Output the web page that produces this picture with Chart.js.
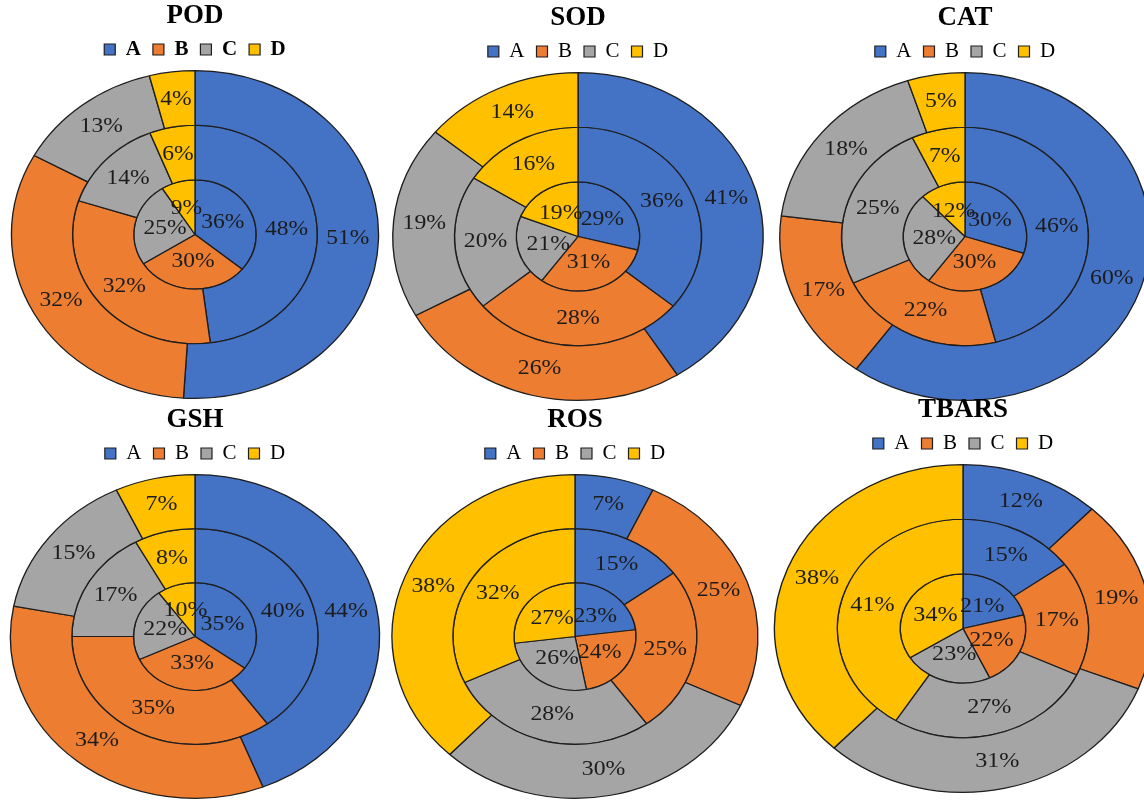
<!DOCTYPE html>
<html>
<head>
<meta charset="utf-8">
<script src="https://cdn.jsdelivr.net/npm/chart.js@4.4.0/dist/chart.umd.min.js"></script>
<style>
  body { margin: 0; background: #fff; overflow: hidden; width: 1144px; height: 800px; position: relative; }
  .cell { position: absolute; }
  canvas { display: block; }
</style>
</head>
<body>
<div class="cell" style="left:0px;top:0px"><canvas id="c0" width="390" height="400"></canvas></div>
<div class="cell" style="left:383px;top:2px"><canvas id="c1" width="390" height="400"></canvas></div>
<div class="cell" style="left:770px;top:2px"><canvas id="c2" width="390" height="400"></canvas></div>
<div class="cell" style="left:0px;top:404px"><canvas id="c3" width="390" height="396"></canvas></div>
<div class="cell" style="left:380px;top:404px"><canvas id="c4" width="390" height="396"></canvas></div>
<div class="cell" style="left:768px;top:394px"><canvas id="c5" width="390" height="400"></canvas></div>
<script>
// groups shown in every legend
const groups = ['A', 'B', 'C', 'D'];
const titles = ['POD', 'SOD', 'CAT', 'GSH', 'ROS', 'TBARS'];

// percentages per ring (A, B, C, D)
const podInner = [36, 30, 25, 9];
const podMiddle = [48, 32, 14, 6];
const podOuter = [51, 32, 13, 4];

const sodInner = [29, 31, 21, 19];
const sodMiddle = [36, 28, 20, 16];
const sodOuter = [41, 26, 19, 14];

const catInner = [30, 30, 28, 12];
const catMiddle = [46, 22, 25, 7];
const catOuter = [60, 17, 18, 5];

const gshInner = [35, 33, 22, 10];
const gshMiddle = [40, 35, 17, 8];
const gshOuter = [44, 34, 15, 7];

const rosInner = [23, 24, 26, 27];
const rosMiddle = [15, 25, 28, 32];
const rosOuter = [7, 25, 30, 38];

const tbarsInner = [21, 22, 23, 34];
const tbarsMiddle = [15, 17, 27, 41];
const tbarsOuter = [12, 19, 31, 38];

const rings = [
  [podOuter, podMiddle, podInner],
  [sodOuter, sodMiddle, sodInner],
  [catOuter, catMiddle, catInner],
  [gshOuter, gshMiddle, gshInner],
  [rosOuter, rosMiddle, rosInner],
  [tbarsOuter, tbarsMiddle, tbarsInner]
];

const colors = ['#4472C4', '#ED7D31', '#A5A5A5', '#FFC000'];
const serif = "'Liberation Serif', 'Times New Roman', serif";

// stretches the round doughnut into the slightly wide ellipse of the figure,
// and writes the percentages inside each slice
const ellipsePlugin = {
  id: 'ellipse',
  beforeDatasetsDraw(chart, args, opts) {
    const ctx = chart.ctx;
    const cx = chart.getDatasetMeta(0).data[0].x;
    ctx.save();
    ctx.translate(cx, 0);
    ctx.scale(opts.sx, 1);
    ctx.translate(-cx, 0);
  },
  afterDatasetsDraw(chart, args, opts) {
    const ctx = chart.ctx;
    ctx.font = '21px ' + serif;
    ctx.fillStyle = '#1c1c1c';
    ctx.textAlign = 'center';
    ctx.textBaseline = 'middle';
    chart.data.datasets.forEach((ds, i) => {
      chart.getDatasetMeta(i).data.forEach((arc, j) => {
        const p = arc.tooltipPosition();
        ctx.fillText(ds.data[j] + '%', p.x, p.y);
      });
    });
    ctx.restore();
  }
};

const stretch = [1.12, 1.13, 1.13, 1.14, 1.13, 1.15];

titles.forEach((t, k) => {
  new Chart(document.getElementById('c' + k), {
    type: 'doughnut',
    data: {
      labels: groups,
      datasets: rings[k].map(r => ({
        data: r,
        backgroundColor: colors,
        borderColor: '#1e1e1e',
        borderWidth: 1.2,
        clip: false
      }))
    },
    options: {
      responsive: false,
      animation: false,
      events: [],
      cutout: 0,
      layout: { padding: { bottom: 1 } },
      plugins: {
        ellipse: { sx: stretch[k] },
        tooltip: { enabled: false },
        title: {
          display: true,
          text: t,
          color: '#000',
          font: { family: serif, size: 27, weight: 'bold', lineHeight: 1 },
          padding: { top: 3, bottom: -3 }
        },
        legend: {
          position: 'top',
          labels: {
            color: '#000',
            boxWidth: 11,
            boxHeight: 11,
            padding: 12,
            font: { family: serif, size: 21, weight: k === 0 ? 'bold' : 'normal' }
          }
        }
      }
    },
    plugins: [ellipsePlugin]
  });
});
</script>
</body>
</html>
